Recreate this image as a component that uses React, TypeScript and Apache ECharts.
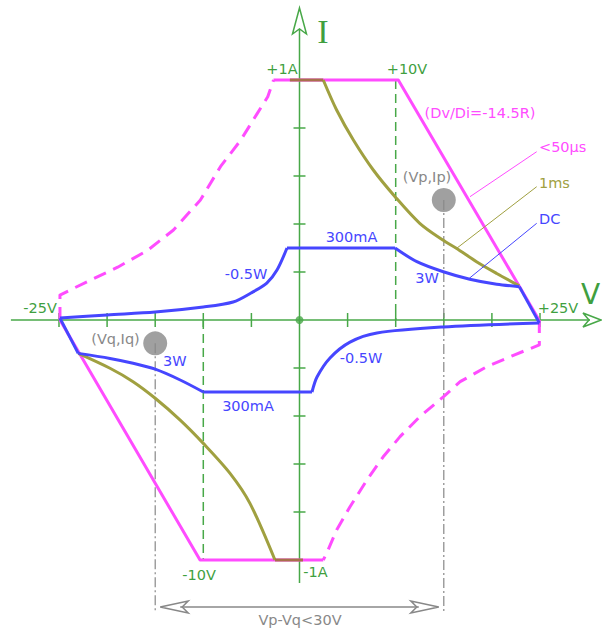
import React, { useEffect, useRef } from "react";
import * as echarts from "echarts";

// ---------- data (volts, amps) ----------
const xTicks = [-25, -20, -15, -10, -5, 5, 10, 15, 20, 25];
const yTicks = [-1, -0.8, -0.6, -0.4, -0.2, 0.2, 0.4, 0.6, 0.8, 1];

// <50us pulse limit (solid parts)
const pulseTop = [[-2.7, 1], [10.27, 1], [24.9, 0]];
const pulseBottom = [[2.47, -1], [-10.34, -1], [-24.9, 0]];
// <50us dashed (reverse) parts
const pulseDashTL = [[-24.9, 0], [-24.9, 0.104], [-21.7, 0.167], [-18.9, 0.22], [-15.8, 0.29], [-13.1, 0.375], [-10.3, 0.5], [-8.2, 0.64], [-6.1, 0.75], [-4.4, 0.86], [-3.3, 0.93], [-2.7, 1]];
const pulseDashBR = [[24.93, 0], [24.93, -0.104], [22.3, -0.146], [19.5, -0.194], [16.7, -0.257], [14.95, -0.32], [12.5, -0.403], [10.45, -0.486], [8.7, -0.57], [7.0, -0.667], [5.25, -0.778], [3.86, -0.875], [2.82, -0.972], [2.47, -1]];

// 1ms limit
const msTop = [[2.47, 1], [3.86, 0.875], [5.6, 0.75], [7.67, 0.625], [9.93, 0.514], [12.5, 0.403], [14.9, 0.333], [16.3, 0.299], [18.4, 0.243], [20.5, 0.194], [22.85, 0.142]];
const msBottom = [[-23.0, -0.139], [-19.7, -0.201], [-17.3, -0.257], [-15.0, -0.326], [-12.4, -0.417], [-10.0, -0.514], [-7.22, -0.639], [-5.15, -0.764], [-2.55, -1]];
const msFlatTop = [[-1.0, 1], [2.47, 1]];
const msFlatBottom = [[-2.55, -1], [0.36, -1]];

// DC limit
const dcTopFlat = [[-1.3, 0.3], [9.93, 0.3]];
const dcTop3W = [[9.93, 0.3], [12.2, 0.243], [14.95, 0.201], [17.7, 0.17], [20.5, 0.149], [22.85, 0.139]];
const dcRightDrop = [[22.85, 0.139], [24.93, -0.012]];
const dcBR05W = [[24.93, -0.012], [14.9, -0.029], [8.05, -0.054], [5.25, -0.092], [3.17, -0.158], [1.82, -0.2375], [1.3, -0.3]];
const dcBottomFlat = [[1.3, -0.3], [-10, -0.3]];
const dcBL3W = [[-10, -0.3], [-12.4, -0.25], [-15, -0.205], [-17.3, -0.18], [-19.7, -0.16], [-23, -0.139]];
const dcLeftRise = [[-23, -0.139], [-24.9, 0.008]];
const dcTL05W = [[-24.9, 0.008], [-20, 0.021], [-15, 0.033], [-10, 0.054], [-6.9, 0.075], [-5.04, 0.1125], [-3.4, 0.154], [-2.34, 0.208], [-1.3, 0.3]];

// guide lines
const plus10 = [[10, 1], [10, 0]];
const minus10 = [[-10, 0], [-10, -1]];
const pointP = [15, 0.5];
const pointQ = [-15, -0.097];
const guideBottom = -1.22;
const spanY = -1.196;

// axes extents
const xAxisLine = [[-30, 0], [30.2, 0]];
const yAxisLine = [[0, -1.096], [0, 1.2125]];
const xArrowTip = [31.34, 0];
const yArrowTip = [0, 1.3];

// ---------- styles ----------
const GREEN = "#48a848";
const GREEN_T = "#3f9f3f";
const PINK = "#ff4cff";
const OLIVE = "#a0a040";
const BROWN = "#a8704c";
const BLUE = "#4646ff";
const GRAY = "#888888";
const FONT = '14.5px "DejaVu Sans"';

function lineSeries(data: number[][], color: string, opts: any = {}) {
  return {
    type: "line",
    data,
    showSymbol: false,
    symbol: "none",
    smooth: opts.smooth ?? false,
    silent: true,
    z: opts.z ?? 3,
    lineStyle: {
      color,
      width: opts.width ?? 3,
      type: opts.type ?? "solid",
      cap: "butt",
      join: "round",
    },
  };
}

function txt(text: string, x: number, y: number, fill: string, align = "center", font = FONT) {
  return {
    type: "text",
    x,
    y,
    silent: true,
    z: 20,
    style: { text, fill, font, align, verticalAlign: "middle", textAlign: align, textVerticalAlign: "middle" },
  };
}

function seg(x1: number, y1: number, x2: number, y2: number, stroke: string) {
  return { type: "line", silent: true, z: 15, shape: { x1, y1, x2, y2 }, style: { stroke, lineWidth: 1 } };
}

export default function App() {
  const ref = useRef<HTMLDivElement>(null);

  useEffect(() => {
    document.body.style.margin = "0";
    const chart = echarts.init(ref.current!, null, { renderer: "svg" });

    const option: any = {
      animation: false,
      backgroundColor: "#ffffff",
      grid: { left: 0, right: 0, top: 0, bottom: 0, containLabel: false },
      xAxis: { type: "value", min: -31.133, max: 31.445, show: false },
      yAxis: { type: "value", min: -1.3, max: 1.33333, show: false },
      series: [
        // axes
        lineSeries(xAxisLine, GREEN, { width: 1.5, z: 1 }),
        lineSeries(yAxisLine, GREEN, { width: 1.5, z: 1 }),
        {
          type: "custom",
          silent: true,
          z: 1,
          data: xTicks.map((v) => [v, 0]),
          renderItem: (_p: any, api: any) => {
            const c = api.coord([api.value(0), api.value(1)]);
            return { type: "line", shape: { x1: c[0], y1: c[1] - 7, x2: c[0], y2: c[1] + 7 }, style: { stroke: GREEN, lineWidth: 1.5 } };
          },
        },
        {
          type: "custom",
          silent: true,
          z: 1,
          data: yTicks.map((v) => [0, v]),
          renderItem: (_p: any, api: any) => {
            const c = api.coord([api.value(0), api.value(1)]);
            return { type: "line", shape: { x1: c[0] - 6, y1: c[1], x2: c[0] + 6, y2: c[1] }, style: { stroke: GREEN, lineWidth: 1.5 } };
          },
        },
        {
          type: "custom",
          silent: true,
          z: 1,
          data: [xArrowTip],
          renderItem: (_p: any, api: any) => {
            const c = api.coord([api.value(0), api.value(1)]);
            return {
              type: "polygon",
              shape: { points: [[c[0], c[1]], [c[0] - 18, c[1] - 7], [c[0] - 12, c[1]], [c[0] - 18, c[1] + 7]] },
              style: { stroke: GREEN, fill: "none", lineWidth: 1.5 },
            };
          },
        },
        {
          type: "custom",
          silent: true,
          z: 1,
          data: [yArrowTip],
          renderItem: (_p: any, api: any) => {
            const c = api.coord([api.value(0), api.value(1)]);
            return {
              type: "polygon",
              shape: { points: [[c[0], c[1]], [c[0] + 7, c[1] + 26], [c[0], c[1] + 21], [c[0] - 7, c[1] + 26]] },
              style: { stroke: GREEN, fill: "none", lineWidth: 1.5 },
            };
          },
        },
        {
          type: "scatter",
          silent: true,
          z: 2,
          data: [[0, 0]],
          symbolSize: 8,
          itemStyle: { color: GREEN },
        },
        // guide dashed lines
        lineSeries(plus10, GREEN, { width: 1.5, type: [9, 5], z: 2 }),
        lineSeries(minus10, GREEN, { width: 1.5, type: [9, 5], z: 2 }),
        lineSeries([pointP, [pointP[0], guideBottom]], GRAY, { width: 1.2, type: [10, 3, 2, 3], z: 2 }),
        lineSeries([pointQ, [pointQ[0], guideBottom]], GRAY, { width: 1.2, type: [10, 3, 2, 3], z: 2 }),
        // span arrow
        {
          type: "custom",
          silent: true,
          z: 2,
          data: [[pointQ[0], pointP[0], spanY]],
          renderItem: (_p: any, api: any) => {
            const a = api.coord([api.value(0), api.value(2)]);
            const b = api.coord([api.value(1), api.value(2)]);
            const l = a[0] + 5;
            const r = b[0] - 5;
            const y = a[1];
            const st = { stroke: GRAY, fill: "none", lineWidth: 1.5 };
            return {
              type: "group",
              children: [
                { type: "line", shape: { x1: l + 20, y1: y, x2: r - 20, y2: y }, style: st },
                { type: "polygon", shape: { points: [[l, y], [l + 28, y - 6], [l + 22, y], [l + 28, y + 6]] }, style: st },
                { type: "polygon", shape: { points: [[r, y], [r - 28, y - 6], [r - 22, y], [r - 28, y + 6]] }, style: st },
              ],
            };
          },
        },
        // <50us
        lineSeries(pulseDashTL, PINK, { type: [13, 8], z: 4 }),
        lineSeries(pulseDashBR, PINK, { type: [13, 8], z: 4 }),
        lineSeries(pulseTop, PINK, { z: 4 }),
        lineSeries(pulseBottom, PINK, { z: 4 }),
        // 1ms
        lineSeries(msTop, OLIVE, { smooth: 0.3, z: 5 }),
        lineSeries(msBottom, OLIVE, { smooth: 0.3, z: 5 }),
        lineSeries(msFlatTop, BROWN, { z: 5 }),
        lineSeries(msFlatBottom, BROWN, { z: 5 }),
        // DC
        lineSeries(dcTopFlat, BLUE, { z: 6 }),
        lineSeries(dcTop3W, BLUE, { smooth: 0.3, z: 6 }),
        lineSeries(dcRightDrop, BLUE, { z: 6 }),
        lineSeries(dcBR05W, BLUE, { smooth: 0.3, z: 6 }),
        lineSeries(dcBottomFlat, BLUE, { z: 6 }),
        lineSeries(dcBL3W, BLUE, { smooth: 0.3, z: 6 }),
        lineSeries(dcLeftRise, BLUE, { z: 6 }),
        lineSeries(dcTL05W, BLUE, { smooth: 0.3, z: 6 }),
        // operating points
        {
          type: "scatter",
          silent: true,
          z: 7,
          data: [pointP, pointQ],
          symbolSize: 24,
          itemStyle: { color: GRAY },
        },
      ],
      graphic: [
        txt("I", 323, 31, GREEN_T, "center", '34px "Liberation Serif"'),
        txt("V", 581, 294, GREEN_T, "left", '28px "DejaVu Sans"'),
        txt("+1A", 282, 69, GREEN_T),
        txt("+10V", 407, 69, GREEN_T),
        txt("-25V", 40, 308, GREEN_T),
        txt("+25V", 558, 308, GREEN_T),
        txt("-10V", 199, 575, GREEN_T),
        txt("-1A", 315.5, 572, GREEN_T),
        txt("(Dv/Di=-14.5R)", 480, 113, PINK),
        txt("<50\u03bcs", 539, 147, PINK, "left"),
        txt("1ms", 539, 183, OLIVE, "left"),
        txt("DC", 539, 219, BLUE, "left"),
        txt("300mA", 351.5, 237, BLUE),
        txt("3W", 427, 277.5, BLUE),
        txt("-0.5W", 246, 274, BLUE),
        txt("3W", 174.7, 360.5, BLUE),
        txt("300mA", 248, 406, BLUE),
        txt("-0.5W", 361, 358, BLUE),
        txt("(Vp,Ip)", 427, 177, GRAY),
        txt("(Vq,Iq)", 115.5, 339, GRAY),
        txt("Vp-Vq<30V", 300, 620, GRAY),
        seg(470, 196.7, 536.7, 151.7, PINK),
        seg(456.7, 248.3, 536.7, 186.7, OLIVE),
        seg(469.3, 278.3, 536.7, 223.3, BLUE),
      ],
    };

    chart.setOption(option);
    return () => chart.dispose();
  }, []);

  return <div ref={ref} style={{ width: 602, height: 632 }} />;
}
